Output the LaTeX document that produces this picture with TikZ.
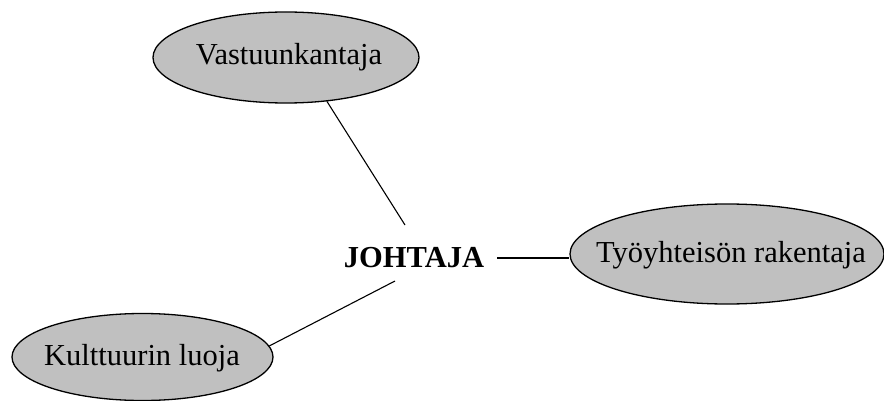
\documentclass[tikz,border=0pt]{standalone}
\usepackage{fontspec}
\setmainfont{Liberation Serif}
\usetikzlibrary{shapes.geometric}
\definecolor{ovalgray}{RGB}{192,192,192}
\begin{document}
\begin{tikzpicture}[x=1pt,y=-1pt,
  oval/.style={ellipse, draw=black, line width=1.3pt, fill=ovalgray, inner sep=0pt},
  lbl/.style={inner sep=0pt, font=\fontsize{30.5}{32}\selectfont},
  link/.style={draw=black, line width=1.1pt}]
\useasboundingbox (0,0) rectangle (884,401);
\begin{scope}
\clip (0,0) rectangle (884,401);
\fill[white] (0,0) rectangle (884,401);
\node[oval, minimum width=266pt, minimum height=91pt] (vast) at (286,57.5) {};
\node[lbl] (vastt) at (289,57) {Vastuunkantaja};
\node[oval, minimum width=314pt, minimum height=100pt] (tyo) at (727,254) {};
\node[lbl] (tyot) at (731,255) {Työyhteisön rakentaja};
\node[oval, minimum width=261pt, minimum height=87pt] (kult) at (142.5,357) {};
\node[lbl] (kultt) at (142,358) {Kulttuurin luoja};
\node[lbl, font=\fontsize{30.5}{32}\selectfont\bfseries] (joh) at (414,258) {JOHTAJA};
\coordinate (j1) at (405,225);
\coordinate (j2) at (497,258);
\coordinate (j3) at (395,281);
\draw[link] (j1) -- (vast.-47);
\draw[link] (j2) -- (j2 -| tyo.west);
\draw[link] (j3) -- (kult.5);
\end{scope}
\end{tikzpicture}
\end{document}
